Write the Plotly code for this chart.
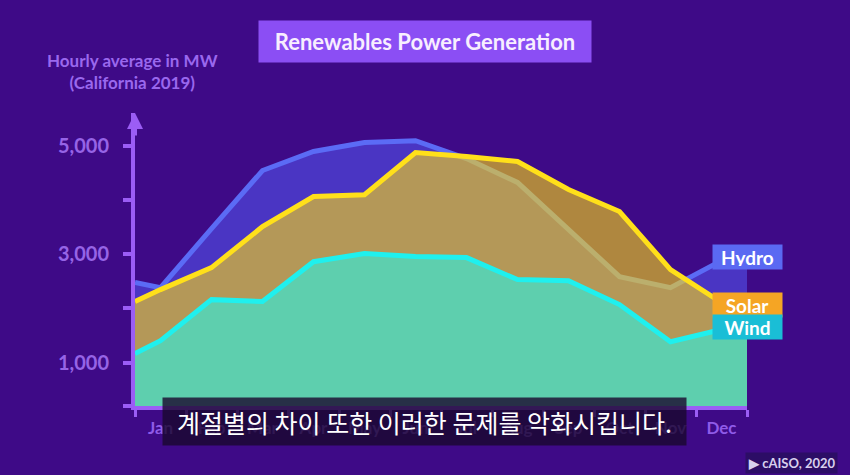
import plotly.graph_objects as go

# ---- data (hourly average MW, California 2019) ----
months = ["Jan", "Feb", "Mar", "Apr", "May", "Jun", "Jul", "Aug", "Sep", "Oct", "Nov", "Dec"]
hydro_mw = [2380, 3470, 4540, 4890, 5055, 5090, 4760, 4320, 3450, 2585, 2380, 2880]
solar_mw = [2345, 2750, 3505, 4060, 4095, 4870, 4800, 4705, 4190, 3785, 2715, 2105]
wind_mw = [1405, 2160, 2125, 2860, 3010, 2955, 2935, 2530, 2510, 2070, 1385, 1610]
# values where the curves meet the start / end of the axis
hydro_edges = [2475, 2950]
solar_edges = [2125, 2070]
wind_edges = [1165, 1650]
series_names = ["Hydro", "Solar", "Wind"]
y_tick_vals = [200, 1000, 2000, 3000, 4000, 5000]
y_tick_text = ["", "1,000", "", "3,000", "", "5,000"]

BG = "#3E0A87"
AXIS = "#9B5DF5"
TICKTXT = "#9664E6"
FONT = "Lato"

x_mid = [i + 0.5 for i in range(len(months))]
x_all = [0] + x_mid + [len(months)]


def full(vals, edges):
    return [edges[0]] + vals + [edges[1]]


fig = go.Figure()
fig.add_trace(go.Scatter(
    x=x_all, y=full(hydro_mw, hydro_edges), mode="lines", fill="tozeroy",
    fillcolor="rgba(86,96,255,0.5)", line=dict(color="#5B6BF5", width=5),
    name="Hydro", hoverinfo="skip"))
fig.add_trace(go.Scatter(
    x=x_all, y=full(solar_mw, solar_edges), mode="lines", fill="tozeroy",
    fillcolor="rgba(255,223,13,0.59)", line=dict(color="#FFE01A", width=5),
    name="Solar", hoverinfo="skip"))
fig.add_trace(go.Scatter(
    x=x_all, y=full(wind_mw, wind_edges), mode="lines", fill="tozeroy",
    fillcolor="#5ECFAE", line=dict(color="#1FF0EE", width=5),
    name="Wind", hoverinfo="skip"))

# plot area in pixels: x 135..747, y 113..406
def px(x):
    return (x - 135) / 612.0


def py(y):
    return (406 - y) / 293.0


label_colors = ["#5A69F2", "#F5A524", "#1ABED6"]
label_y = [hydro_edges[1], solar_edges[1], wind_edges[1]]
annotations = []
for name, col, yv in zip(series_names, label_colors, label_y):
    annotations.append(dict(
        x=len(months), y=yv, xref="x", yref="y", text="<b>%s</b>" % name,
        showarrow=False, xanchor="center", yanchor="middle",
        font=dict(family=FONT, size=19, color="#FFFFFF"),
        bgcolor=col, width=63, height=18, borderpad=3))

# title box
annotations.append(dict(
    x=px(425), y=py(42), xref="paper", yref="paper",
    text="<b>Renewables Power Generation</b>", showarrow=False,
    xanchor="center", yanchor="middle",
    font=dict(family=FONT, size=22, color="#F8EEFF"),
    bgcolor="#8B4EF4", width=314, height=23, borderpad=9))
# y axis title
annotations.append(dict(
    x=px(132), y=py(71), xref="paper", yref="paper",
    text="<b>Hourly average in MW<br>(California 2019)</b>", showarrow=False,
    xanchor="center", yanchor="middle",
    font=dict(family=FONT, size=17, color="#9A68EE")))
# axis arrow
annotations.append(dict(
    x=0, y=1, xref="x", yref="paper", text="", showarrow=True,
    ax=0, ay=24, arrowhead=2, arrowsize=0.8, arrowwidth=4, arrowcolor=AXIS))
# subtitle
annotations.append(dict(
    x=px(424.5), y=py(421.5), xref="paper", yref="paper",
    text="계절별의 차이 또한 이러한 문제를 악화시킵니다.", showarrow=False,
    xanchor="center", yanchor="middle",
    font=dict(family="Noto Sans CJK KR", size=25, color="#FFFFFF"),
    bgcolor="rgba(25,8,45,0.8)", width=507, height=31, borderpad=8))
# credit
annotations.append(dict(
    x=px(791), y=py(463), xref="paper", yref="paper",
    text="<b>▶ cAISO, 2020</b>", showarrow=False,
    xanchor="center", yanchor="middle",
    font=dict(family=FONT, size=13, color="#D8D0EE"),
    bgcolor="#2C0D66", borderpad=2))

fig.update_layout(
    width=850, height=475,
    margin=dict(l=135, r=103, t=113, b=69),
    paper_bgcolor=BG, plot_bgcolor=BG,
    showlegend=False,
    annotations=annotations,
    xaxis=dict(
        range=[0, len(months)], showgrid=False, zeroline=False,
        showline=True, linewidth=4, linecolor=AXIS,
        tickvals=x_mid, ticktext=months, ticks="",
        tickfont=dict(family=FONT, size=17, color="#8F5BE8", weight="bold"),
        ticklabelstandoff=4,
        minor=dict(tickvals=list(range(len(months) + 1)), ticks="outside",
                   ticklen=7, tickwidth=3, tickcolor=AXIS, showgrid=False),
    ),
    yaxis=dict(
        range=[200, 5600], showgrid=False, zeroline=False,
        showline=True, linewidth=4, linecolor=AXIS,
        tickvals=y_tick_vals, ticktext=y_tick_text, ticks="outside",
        ticklen=8, tickwidth=4, tickcolor=AXIS,
        tickfont=dict(family=FONT, size=20, color=TICKTXT, weight="bold"),
        ticklabelstandoff=10,
    ),
)

fig.write_html("out.html")
